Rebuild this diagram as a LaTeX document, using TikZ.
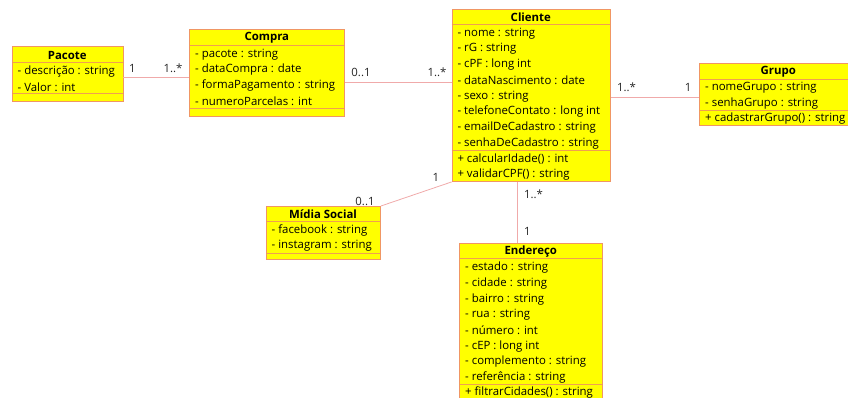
\documentclass[tikz,border=0pt]{standalone}
\usepackage{fontspec}
\setmainfont{Open Sans}
\definecolor{bord}{RGB}{240,150,100}
\definecolor{sep}{RGB}{240,160,80}
\definecolor{conn}{RGB}{240,170,170}
\definecolor{boxfill}{RGB}{255,255,0}
\tikzset{
  cls/.style={draw=bord, fill=boxfill, line width=0.9pt, anchor=north west, inner sep=0pt},
  ttl/.style={font=\fontsize{11.4}{13}\selectfont\bfseries, anchor=center, inner sep=0pt},
  itm/.style={font=\fontsize{11.4}{13}\selectfont, anchor=west, inner sep=0pt},
  mult/.style={font=\fontsize{11.4}{13}\selectfont, inner sep=0pt, text=black!85},
  conline/.style={draw=conn, line width=0.8pt},
  sepline/.style={draw=sep, line width=0.8pt}
}
\begin{document}
\begin{tikzpicture}[x=1pt,y=-1pt]
\useasboundingbox (0,0) rectangle (848,398);
% ---- Pacote
\node[cls, minimum width=110.5pt, minimum height=55pt] (pac) at (12,46.5) {};
\draw[sepline] (12,62.5) -- (122.5,62.5);
\draw[sepline] (12,93.5) -- (122.5,93.5);
\node[ttl] (pact) at (67.2,55) {Pacote};
\node[itm] (pac1) at (17.5,71.3) {- descrição : string};
\node[itm] (pac2) at (17.5,86.8) {- Valor : int};
% ---- Compra
\node[cls, minimum width=155pt, minimum height=86.7pt] (com) at (189.3,29.3) {};
\draw[sepline] (189.3,45) -- (344.3,45);
\draw[sepline] (189.3,108.7) -- (344.3,108.7);
\node[ttl] (comt) at (266.8,37.8) {Compra};
\node[itm] (com1) at (195,54.2) {- pacote : string};
\node[itm] (com2) at (195,69.9) {- dataCompra : date};
\node[itm] (com3) at (195,85.6) {- formaPagamento : string};
\node[itm] (com4) at (195,101.3) {- numeroParcelas : int};
% ---- Cliente
\node[cls, minimum width=158.3pt, minimum height=171.7pt] (cli) at (451.7,9.3) {};
\draw[sepline] (451.7,24.3) -- (610,24.3);
\draw[sepline] (451.7,150) -- (610,150);
\node[ttl] (clit) at (530.8,17.3) {Cliente};
\node[itm] (cli1) at (457.3,33.4) {- nome : string};
\node[itm] (cli2) at (457.3,49.1) {- rG : string};
\node[itm] (cli3) at (457.3,64.8) {- cPF : long int};
\node[itm] (cli4) at (457.3,80.5) {- dataNascimento : date};
\node[itm] (cli5) at (457.3,96.2) {- sexo : string};
\node[itm] (cli6) at (457.3,111.9) {- telefoneContato : long int};
\node[itm] (cli7) at (457.3,127.6) {- emailDeCadastro : string};
\node[itm] (cli8) at (457.3,143.3) {- senhaDeCadastro : string};
\node[itm] (cli9) at (457.3,158.8) {+ calcularIdade() : int};
\node[itm] (cli10) at (457.3,174.3) {+ validarCPF() : string};
% ---- Grupo
\node[cls, minimum width=158pt, minimum height=62pt] (gru) at (699.3,63.3) {};
\draw[sepline] (699.3,79) -- (857.3,79);
\draw[sepline] (699.3,110) -- (857.3,110);
\node[ttl] (grut) at (778.3,72) {Grupo};
\node[itm] (gru1) at (705,87.9) {- nomeGrupo : string};
\node[itm] (gru2) at (705,103.4) {- senhaGrupo : string};
\node[itm] (gru3) at (705,118.8) {+ cadastrarGrupo() : string};
% ---- Midia Social
\node[cls, minimum width=114pt, minimum height=53pt] (mid) at (266,206) {};
\draw[sepline] (266,221.7) -- (380,221.7);
\draw[sepline] (266,253) -- (380,253);
\node[ttl] (midt) at (323,214.4) {Mídia Social};
\node[itm] (mid1) at (271.5,230.3) {- facebook : string};
\node[itm] (mid2) at (271.5,245.9) {- instagram : string};
% ---- Endereco
\node[cls, minimum width=143pt, minimum height=158pt] (end) at (459.3,243.3) {};
\draw[sepline] (459.3,258.7) -- (602.3,258.7);
\draw[sepline] (459.3,384.3) -- (602.3,384.3);
\node[ttl] (endt) at (530.8,251.8) {Endereço};
\node[itm] (end1) at (465,267.7) {- estado : string};
\node[itm] (end2) at (465,283.4) {- cidade : string};
\node[itm] (end3) at (465,299.1) {- bairro : string};
\node[itm] (end4) at (465,314.8) {- rua : string};
\node[itm] (end5) at (465,330.5) {- número : int};
\node[itm] (end6) at (465,346.2) {- cEP : long int};
\node[itm] (end7) at (465,361.9) {- complemento : string};
\node[itm] (end8) at (465,377.6) {- referência : string};
\node[itm] (end9) at (465,393) {+ filtrarCidades() : string};
% ---- connectors
\coordinate (pA) at (pac.east |- 0,77.3);
\coordinate (cA) at (com.west |- 0,77.3);
\draw[conline] (pA) -- (cA);
\coordinate (cB) at (com.east |- 0,82.7);
\coordinate (kB) at (cli.west |- 0,82.7);
\draw[conline] (cB) -- (kB);
\coordinate (kC) at (cli.east |- 0,97.3);
\coordinate (gC) at (gru.west |- 0,97.3);
\draw[conline] (kC) -- (gC);
\draw[conline] (cli.south west) -- (mid.north east);
\coordinate (kE) at (517.7,0 |- cli.south);
\coordinate (eE) at (517.7,0 |- end.north);
\draw[conline] (kE) -- (eE);
% ---- multiplicities
\node[mult] (m1) at (132.5,68) {1};
\node[mult] (m2) at (173,68) {1..*};
\node[mult] (m3) at (361,72) {0..1};
\node[mult] (m4) at (437,72) {1..*};
\node[mult] (m5) at (626.5,87.5) {1..*};
\node[mult] (m6) at (688,87.5) {1};
\node[mult] (m7) at (436,177) {1};
\node[mult] (m8) at (365,201.5) {0..1};
\node[mult] (m9) at (533.5,194) {1..*};
\node[mult] (m10) at (527.5,231.5) {1};
\end{tikzpicture}
\end{document}
